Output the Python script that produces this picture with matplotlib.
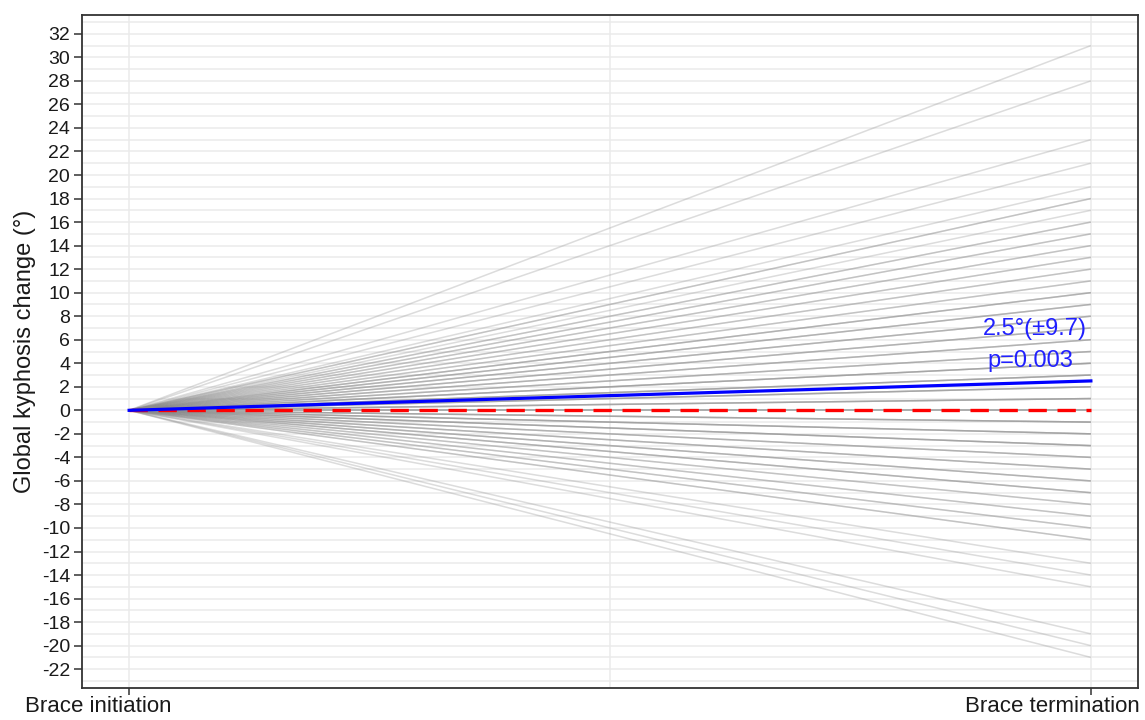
import matplotlib
matplotlib.use("Agg")
import matplotlib.pyplot as plt
from matplotlib.transforms import ScaledTranslation
import numpy as np

plt.rcParams['font.family'] = ['Liberation Sans', 'DejaVu Sans']

# ---- data ----
timepoints = ["Brace initiation", "Brace termination"]
end_values = [31, 28, 23, 21, 19, 18, 17, 16, 15, 14, 13, 12, 11, 10, 9, 8, 7, 6, 5,
              4, 3, 2, 1, 0, -1, -2, -3, -4, -5, -6, -7, -8, -9, -10, -11,
              -13, -14, -15, -19, -20, -21]
end_counts = [1, 1, 1, 1, 1, 2, 1, 2, 2, 2, 2, 2, 2, 3, 3, 3, 3, 3, 3,
              4, 4, 4, 4, 4, 4, 4, 4, 3, 3, 3, 3, 2, 2, 2, 2,
              1, 1, 1, 1, 1, 1]
mean_change = 2.5
sd_change = 9.7
p_value = "0.003"
y_ticks = list(range(-22, 33, 2))

# ---- figure ----
W, H, DPI = 1145, 720, 100
fig = plt.figure(figsize=(W / DPI, H / DPI), dpi=DPI)
ax = fig.add_axes([82 / W, 1 - 688 / H, (1138 - 82) / W, (688 - 15) / H])

x = np.array([1, 2])
for v, c in zip(end_values, end_counts):
    for _ in range(c):
        ax.plot(x, [0, v], color="#8c8c8c", alpha=0.3, lw=1.1,
                solid_capstyle="butt", zorder=2)

ax.plot(x, [0, 0], color="#ff0000", lw=2.4, dashes=(5.5, 3.2), zorder=3)
ax.plot(x, [0, mean_change], color="#0000ff", lw=2.3, zorder=4)

ax.text(1.942, 6.37, f"{mean_change}°(±{sd_change})", color="#2020ff",
        fontsize=17, ha="center", va="baseline", zorder=5)
ax.text(1.9375, 3.68, f"p={p_value}", color="#2020ff",
        fontsize=17, ha="center", va="baseline", zorder=5)

# ---- axes ----
ax.set_xlim(0.951, 2.049)
ax.set_ylim(-23.6, 33.6)
ax.set_xticks(x)
ax.set_xticklabels(timepoints, fontsize=16, color="#1a1a1a")
ax.set_yticks(y_ticks)
ax.set_yticklabels([str(t) for t in y_ticks], fontsize=14, color="#1a1a1a")
ax.set_yticks(range(-23, 34), minor=True)
ax.set_xticks([1.5], minor=True)
ax.tick_params(axis="y", which="major", length=5.5, width=1.1,
               color="#333333", pad=3)
ax.tick_params(axis="x", which="major", length=5, width=1.1,
               color="#333333", pad=1)
ax.tick_params(axis="both", which="minor", length=0)
ax.set_ylabel("Global kyphosis change (°)", fontsize=17, color="#1a1a1a",
              labelpad=4)

ax.grid(True, which="both", color="#ebebeb", lw=1.1, zorder=0)
ax.set_axisbelow(True)
for s in ax.spines.values():
    s.set_color("#333333")
    s.set_linewidth(1.3)

# shift category labels slightly left as in the reference
for lbl, dx in zip(ax.get_xticklabels(), [-31, -38]):
    lbl.set_transform(lbl.get_transform() + ScaledTranslation(dx / DPI, 0, fig.dpi_scale_trans))

fig.savefig("out.png", dpi=DPI)
